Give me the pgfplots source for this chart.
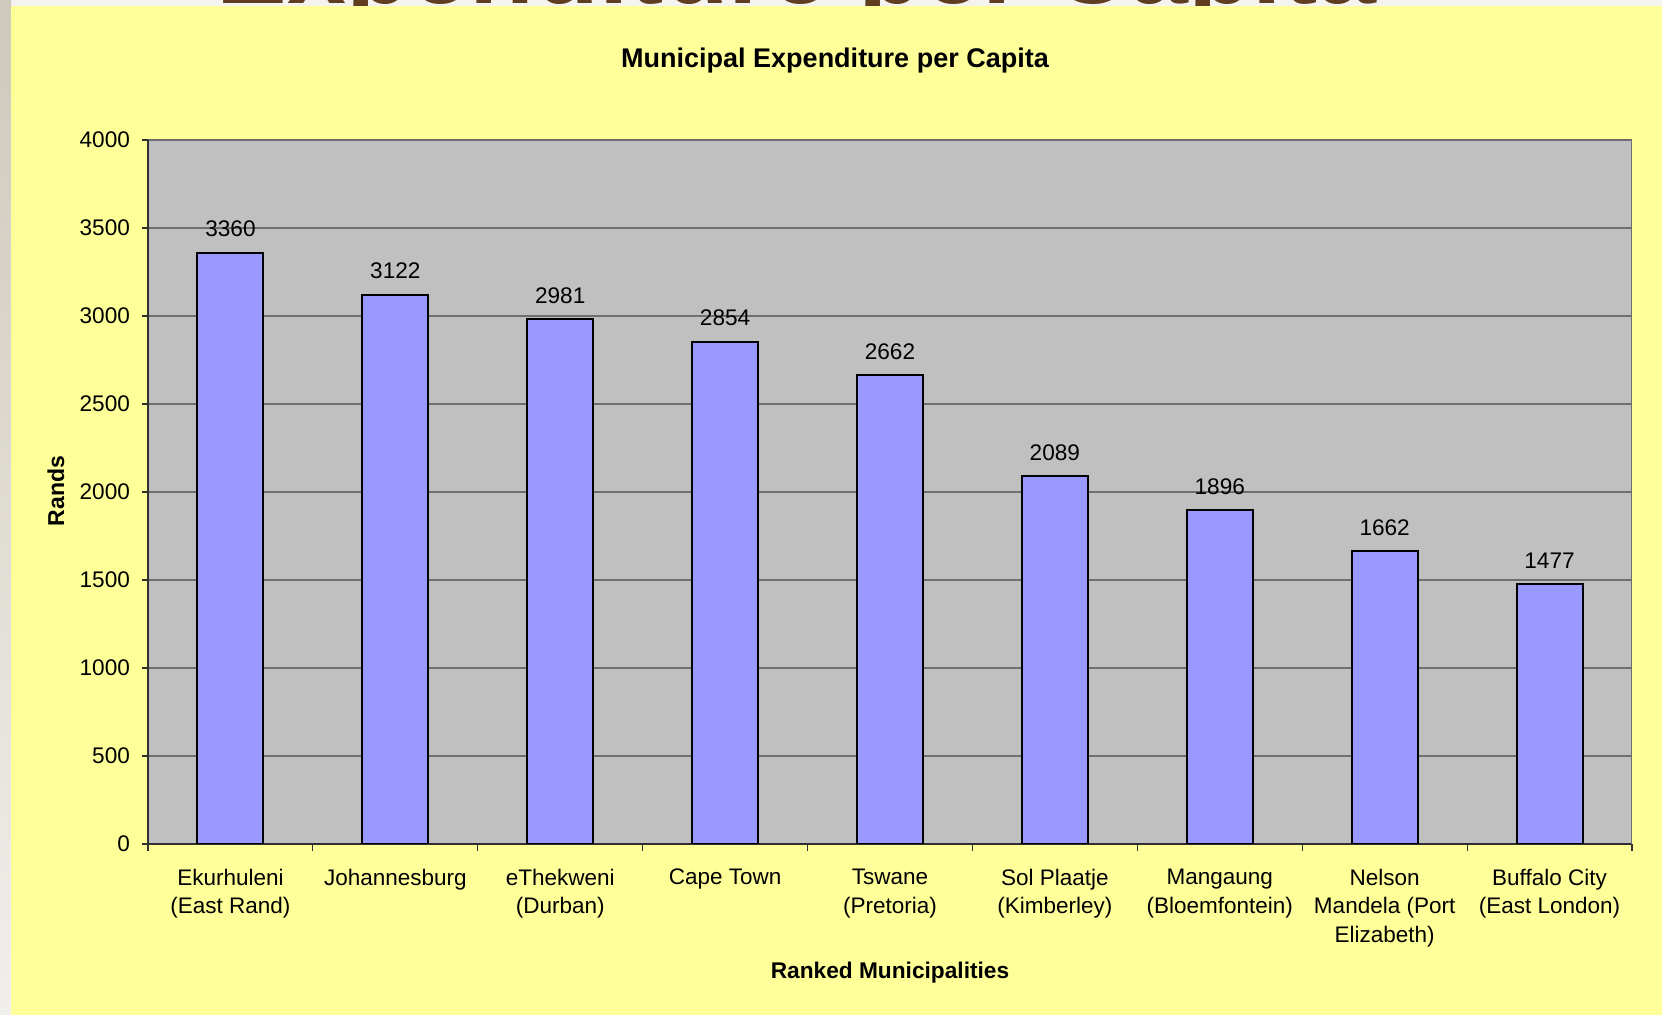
\documentclass[border=0pt]{standalone}
\usepackage{fontspec}
\setmainfont{Liberation Sans}
\usepackage{pgfplots}
\pgfplotsset{compat=1.18}

\definecolor{panel}{HTML}{FFFF99}
\definecolor{plotbg}{HTML}{C0C0C0}
\definecolor{barfill}{HTML}{9999FF}
\definecolor{gridc}{HTML}{6E6E6E}
\definecolor{axisc}{HTML}{303030}
\definecolor{headbrown}{HTML}{5E3D20}
\definecolor{slidebg}{HTML}{F4F3F0}
\definecolor{slidetop}{HTML}{CFC9BB}
\definecolor{slidebot}{HTML}{F0EFEC}

\begin{document}
\begin{tikzpicture}
  % page area: 831pt x 507.5pt
  \useasboundingbox (0,0) rectangle (831pt,507.5pt);
  \fill[slidebg] (0,0) rectangle (831pt,507.5pt);
  \fill[top color=slidetop, bottom color=slidebot] (0,0) rectangle (5.5pt,507.5pt);
  % slide heading, mostly hidden behind the chart panel
  \begin{scope}
    \clip (0,0) rectangle (831pt,507.5pt);
    \node[headbrown, anchor=base, inner sep=0pt,
          font=\fontsize{53}{53}\selectfont\bfseries] at (398.3pt,505.8pt) {Expenditure per Capita};
  \end{scope}
  % chart panel
  \fill[panel] (5.5pt,0) rectangle (831pt,504.5pt);

  \begin{axis}[
      at={(74pt,85.5pt)}, anchor=south west,
      scale only axis, width=742pt, height=352pt,
      ybar, bar width=33pt,
      xmin=-0.5, xmax=8.5, ymin=0, ymax=4000,
      axis background/.style={fill=plotbg},
      axis lines*=left,
      axis line style={draw=axisc, line width=0.8pt},
      tick align=outside,
      ytick={0,500,...,4000},
      ymajorgrids,
      grid style={draw=gridc, line width=0.6pt},
      ytick style={draw=axisc, line width=0.6pt},
      major tick length=3pt,
      xtick={0,...,8},
      xtick style={draw=none},
      extra x ticks={-0.5,0.5,...,8.5},
      extra x tick labels={},
      extra x tick style={xtick style={draw=axisc, line width=0.6pt}, major tick length=3.5pt},
      xticklabels={{Ekurhuleni\\(East Rand)}, {Johannesburg}, {eThekweni\\(Durban)},
                   {Cape Town}, {Tswane\\(Pretoria)}, {Sol Plaatje\\(Kimberley)},
                   {Mangaung\\(Bloemfontein)}, {Nelson\\Mandela (Port\\Elizabeth)},
                   {Buffalo City\\(East London)}},
      xticklabel style={align=center, font=\fontsize{11.25}{14.3}\selectfont, yshift=-6pt},
      yticklabel style={font=\fontsize{11.3}{12}\selectfont, xshift=-2.5pt},
      /pgf/number format/assume math mode=true,
      /pgf/number format/1000 sep={},
      nodes near coords,
      nodes near coords style={font=\fontsize{11.3}{12}\selectfont, text=black, yshift=4pt},
    ]
    \addplot[fill=barfill, draw=black, line width=1pt] coordinates {
      (0,3360) (1,3122) (2,2981) (3,2854) (4,2662)
      (5,2089) (6,1896) (7,1662) (8,1477)
    };
    \draw[gridc, line width=0.6pt] (axis cs:8.5,0) -- (axis cs:8.5,4000);
  \end{axis}

  \node[font=\fontsize{13.5}{15}\selectfont\bfseries] at (417.5pt,477pt) {Municipal Expenditure per Capita};
  \node[font=\fontsize{11.5}{12}\selectfont\bfseries, rotate=90] at (28pt,262pt) {Rands};
  \node[font=\fontsize{11.35}{12}\selectfont\bfseries] at (445pt,21pt) {Ranked Municipalities};
\end{tikzpicture}
\end{document}
